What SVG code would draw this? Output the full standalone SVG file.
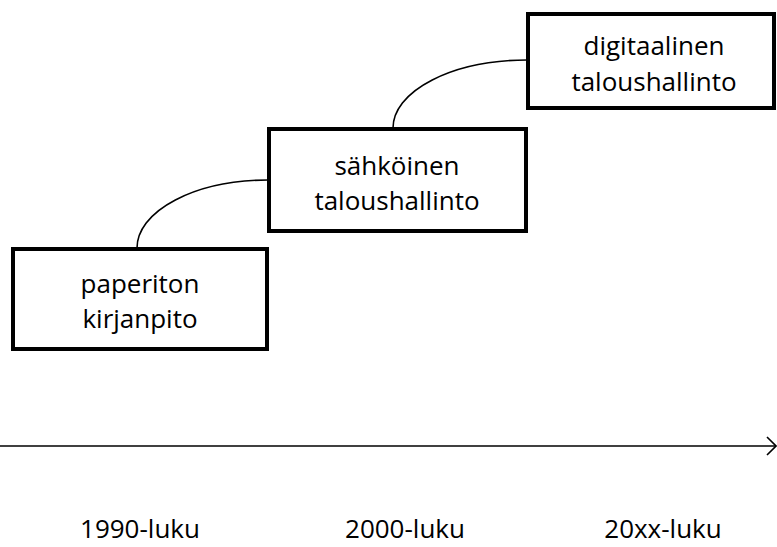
<svg xmlns="http://www.w3.org/2000/svg" width="777" height="547" viewBox="0 0 777 547">
<style>
.box{fill:#fff;stroke:#000;stroke-width:4}
.lbl{font-family:"Open Sans","Liberation Sans",sans-serif;font-size:26px;fill:#000;text-anchor:middle}
.con{fill:none;stroke:#000;stroke-width:1.6}
</style>
<rect width="777" height="547" fill="#fff"/>
<g id="connectors">
<path class="con" d="M137,248 A131,68 0 0 1 268,180"/>
<path class="con" d="M393,128 A134,68 0 0 1 527,60"/>
<path class="con" d="M0,446 H776" stroke-width="2"/>
<path class="con" d="M767,437 L776,446 L767,455" stroke-width="2"/>
</g>
<g id="n1">
<rect class="box" x="13" y="249" width="254" height="100"/>
<text class="lbl" x="140" y="293">paperiton</text>
<text class="lbl" x="140" y="328">kirjanpito</text>
</g>
<g id="n2">
<rect class="box" x="269" y="129" width="257" height="102"/>
<text class="lbl" x="397" y="175">sähköinen</text>
<text class="lbl" x="397" y="210">taloushallinto</text>
</g>
<g id="n3">
<rect class="box" x="528" y="14" width="246" height="94"/>
<text class="lbl" x="654" y="55">digitaalinen</text>
<text class="lbl" x="654" y="91">taloushallinto</text>
</g>
<g id="axis-labels">
<text class="lbl" x="140" y="538">1990-luku</text>
<text class="lbl" x="405" y="538">2000-luku</text>
<text class="lbl" x="663" y="538">20xx-luku</text>
</g>
</svg>
